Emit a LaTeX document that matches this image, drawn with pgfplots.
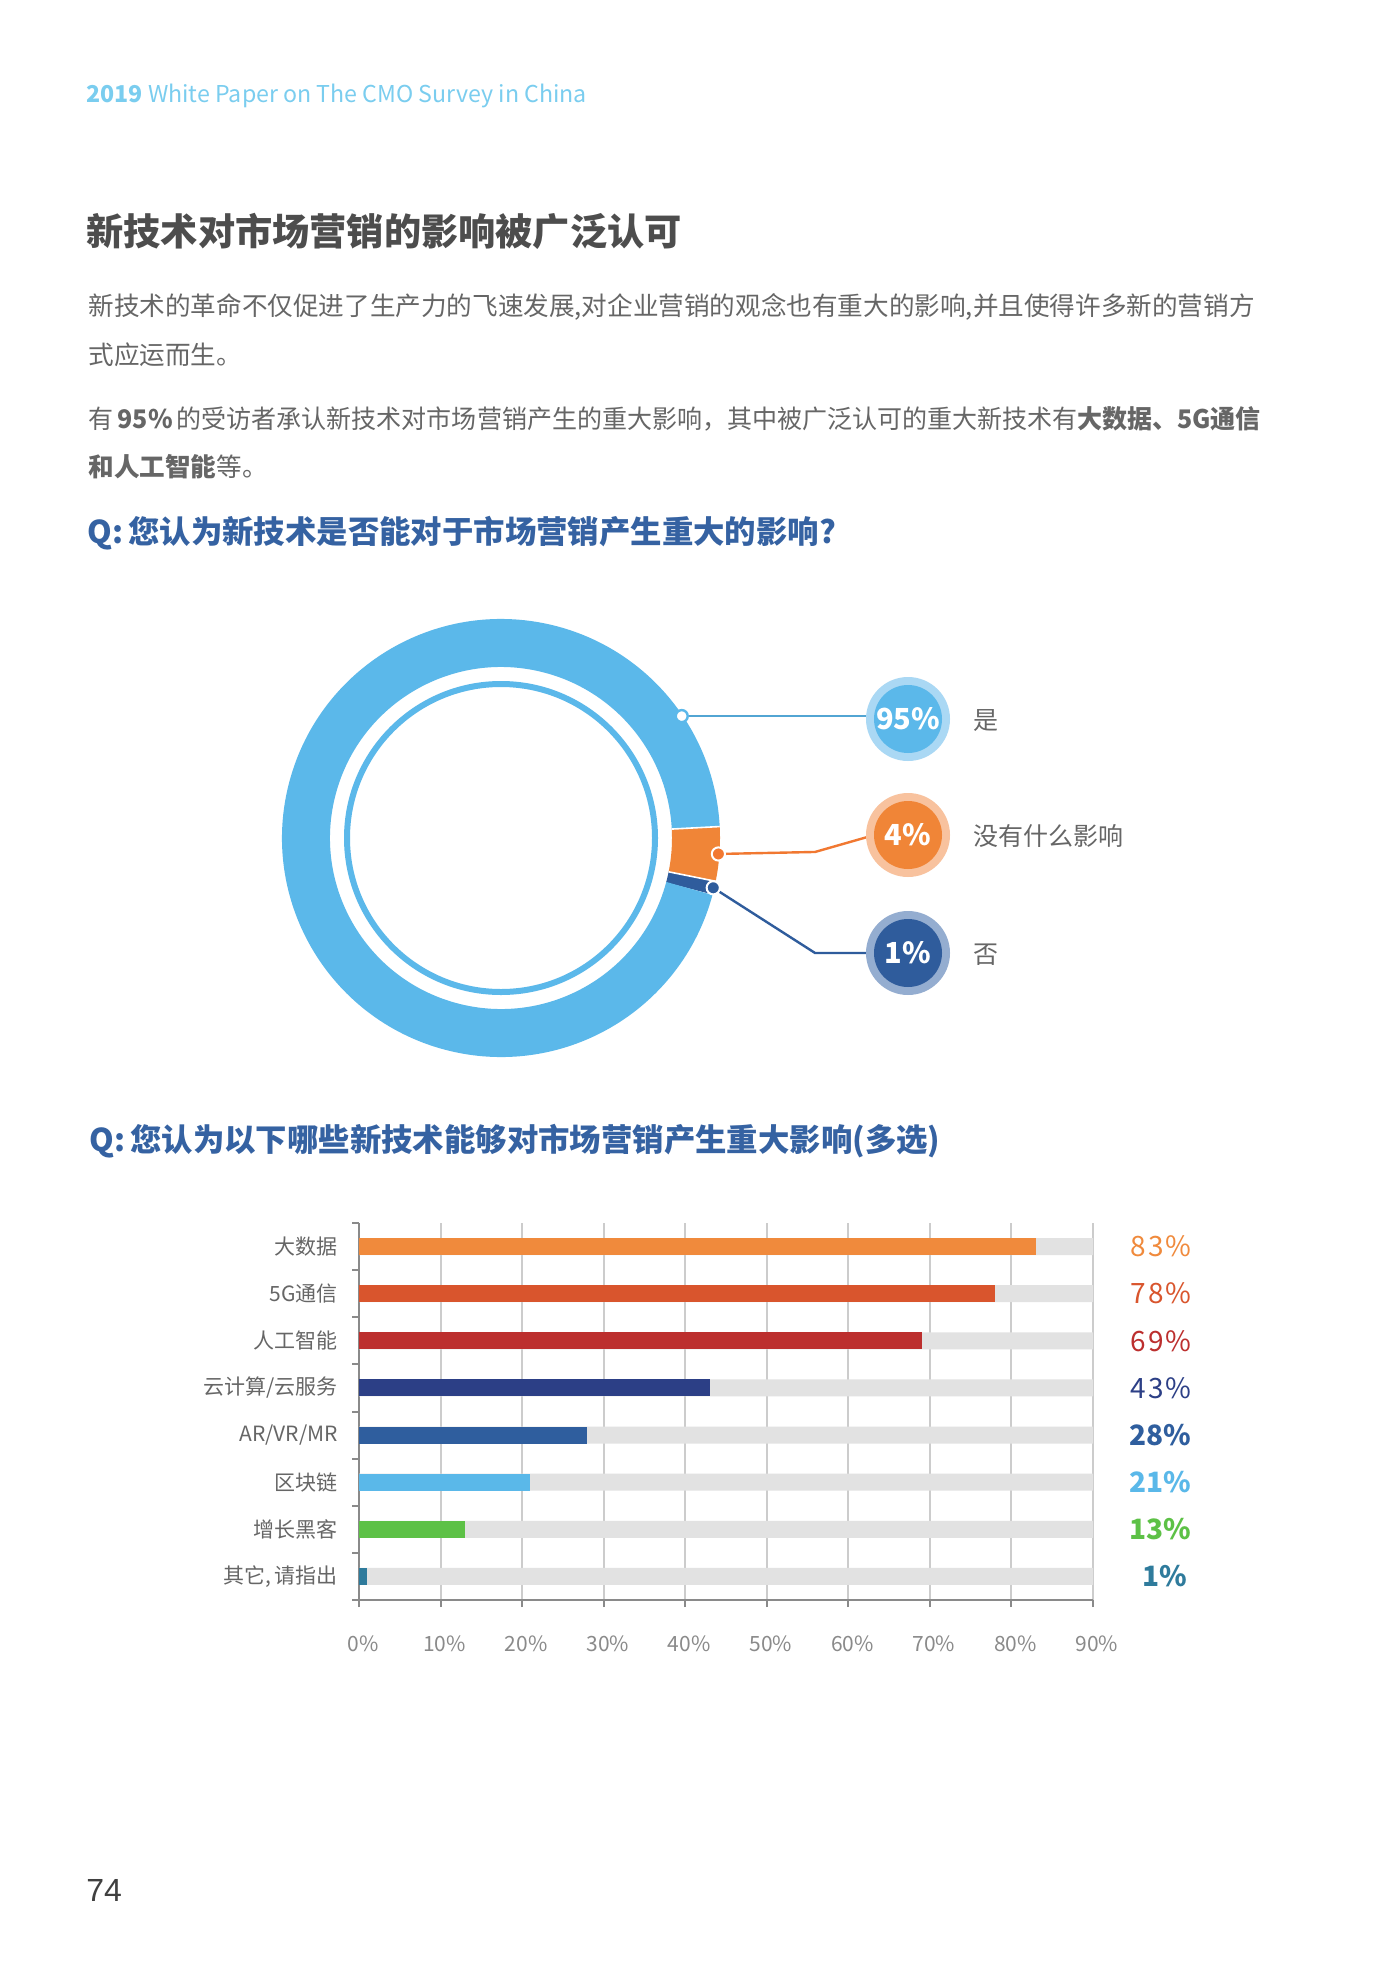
\documentclass[border=0pt]{standalone}
\usepackage{fontspec}
\setmainfont{Noto Sans CJK SC}
\newfontfamily\arial{Liberation Sans}
\usepackage{pgfplots}
\pgfplotsset{compat=1.18}

\definecolor{hdrblue}{HTML}{7ACDEF}
\definecolor{titlegray}{HTML}{4D4D4D}
\definecolor{textgray}{HTML}{666666}
\definecolor{qblue}{HTML}{3562A2}
\definecolor{ringblue}{HTML}{5BB8EA}
\definecolor{ringorange}{HTML}{F08537}
\definecolor{ringnavy}{HTML}{2F5C9C}
\definecolor{haloblue}{HTML}{AAD8F4}
\definecolor{haloorange}{HTML}{F8C29E}
\definecolor{halonavy}{HTML}{94ADD0}
\definecolor{cA}{HTML}{F08A3C}
\definecolor{cB}{HTML}{D9552D}
\definecolor{cC}{HTML}{BC2F2E}
\definecolor{cD}{HTML}{2C3F86}
\definecolor{cE}{HTML}{2F5E9E}
\definecolor{cF}{HTML}{5AB8E9}
\definecolor{cG}{HTML}{5DC146}
\definecolor{cH}{HTML}{2F7B9C}
\definecolor{bargray}{HTML}{E2E2E2}
\definecolor{gridgray}{HTML}{CCCCCC}
\definecolor{axisgray}{HTML}{8A8A8A}

\newcommand{\fs}[1]{\fontsize{#1pt}{#1pt}\selectfont}

% donut values (percent)
\def\pYes{95}
\def\pSome{4}
\def\pNo{1}

\begin{document}
\begin{tikzpicture}
\fill[white] (0,0) rectangle (689pt,-984.5pt);
\path[use as bounding box] (0,0) rectangle (689pt,-984.5pt);

% ---- donut ----
\begin{axis}[at={(250.5pt,-419pt)}, anchor=center, hide axis, scale only axis,
  width=230pt, height=230pt, xmin=-1, xmax=1, ymin=-1, ymax=1, clip=false]
\addplot[draw=none] coordinates {(0,0)};
\draw[ringorange, line width=24pt] (axis cs:0,0) ++(3:97.5pt)
  arc[start angle=3, end angle={3-3.6*\pSome}, radius=97.5pt];
\draw[ringnavy, line width=24pt] (axis cs:0,0) ++({3-3.6*\pSome}:97.5pt)
  arc[start angle={3-3.6*\pSome}, end angle={3-3.6*(\pSome+\pNo)}, radius=97.5pt];
\draw[ringblue, line width=24pt] (axis cs:0,0) ++({3-3.6*(\pSome+\pNo)}:97.5pt)
  arc[start angle={3-3.6*(\pSome+\pNo)}, end angle={3-3.6*(\pSome+\pNo+\pYes)}, radius=97.5pt];
\draw[white, line width=0.8pt] (axis cs:0,0) ++(3:85.5pt) -- ++(3:24pt);
\draw[white, line width=0.8pt] (axis cs:0,0) ++({3-3.6*\pSome}:85.5pt) -- ++({3-3.6*\pSome}:24pt);
\draw[ringblue, line width=3pt] (axis cs:0,0) circle[radius=77pt];
% leaders
\path (axis cs:0,0) ++(34:109pt) coordinate (dA);
\path (axis cs:0,0) ++({3-1.8*\pSome}:109pt) coordinate (dB);
\path (axis cs:0,0) ++({3-3.6*\pSome-1.8*\pNo}:109pt) coordinate (dC);
\draw[ringblue!90!black, line width=1.2pt] (dA) -- ++(92pt,0pt);
\draw[ringorange!90!red, line width=1.2pt] (dB) -- ++(48.3pt,1pt) -- ++(28pt,8pt);
\draw[ringnavy, line width=1.2pt] (dC) -- ++(50.9pt,-32.6pt) -- ++(27.5pt,0pt);
\filldraw[fill=white, draw=ringblue, line width=1.2pt] (dA) circle[radius=3pt];
\filldraw[fill=ringorange!90!red, draw=white, line width=1pt] (dB) circle[radius=3.3pt];
\filldraw[fill=ringnavy, draw=white, line width=1pt] (dC) circle[radius=3.3pt];
\end{axis}

% ---- bar chart ----
\begin{axis}[at={(179.5pt,-800pt)}, anchor=south west, scale only axis,
  width=367pt, height=188.5pt,
  xbar, bar width=8.5pt, bar shift=0pt,
  xmin=0, xmax=90, ymin=-0.5, ymax=7.5,
  axis x line*=bottom, axis y line*=left,
  axis line style={axisgray, line width=1.2pt},
  xtick={0,10,...,90},
  xticklabels={0\%,10\%,20\%,30\%,40\%,50\%,60\%,70\%,80\%,90\%},
  xmajorgrids, grid style={gridgray, line width=1pt},
  ytick={-0.5,0.5,...,7.5}, yticklabels={},
  extra y ticks={0,1,2,3,4,5,6,7},
  extra y tick labels={{其它,\,请指出},增长黑客,区块链,AR/VR/MR,云计算/云服务,人工智能,5G通信,大数据},
  extra tick style={major tick length=0pt},
  tick align=outside, major tick length=3.5pt,
  tick style={axisgray, line width=1pt},
  xticklabel style={font=\fs{10.5}, text=axisgray, yshift=-11pt, xshift=2pt},
  yticklabel style={font=\fs{10.5}, text=textgray, xshift=-7pt},
  clip=false,
]
\addplot[fill=bargray, draw=none] coordinates {(90,0)(90,1)(90,2)(90,3)(90,4)(90,5)(90,6)(90,7)};
\addplot[fill=cA, draw=none] coordinates {(83,7)};
\addplot[fill=cB, draw=none] coordinates {(78,6)};
\addplot[fill=cC, draw=none] coordinates {(69,5)};
\addplot[fill=cD, draw=none] coordinates {(43,4)};
\addplot[fill=cE, draw=none] coordinates {(28,3)};
\addplot[fill=cF, draw=none] coordinates {(21,2)};
\addplot[fill=cG, draw=none] coordinates {(13,1)};
\addplot[fill=cH, draw=none] coordinates {(1,0)};
\node[anchor=east, xshift=52.5pt, text=cA, font=\fs{14}] at (axis cs:90,7) {8\kern0.8pt3\kern0.8pt\%};
\node[anchor=east, xshift=52.5pt, text=cB, font=\fs{14}] at (axis cs:90,6) {7\kern0.8pt8\kern0.8pt\%};
\node[anchor=east, xshift=52.5pt, text=cC, font=\fs{14}] at (axis cs:90,5) {6\kern0.8pt9\kern0.8pt\%};
\node[anchor=east, xshift=52.5pt, text=cD, font=\fs{14}] at (axis cs:90,4) {4\kern0.8pt3\kern0.8pt\%};
\node[anchor=east, xshift=52.5pt, text=cE, font=\bfseries\fs{14}] at (axis cs:90,3) {28\%};
\node[anchor=east, xshift=52.5pt, text=cF, font=\bfseries\fs{14}] at (axis cs:90,2) {21\%};
\node[anchor=east, xshift=52.5pt, text=cG, font=\bfseries\fs{14}] at (axis cs:90,1) {13\%};
\node[anchor=east, xshift=50.5pt, text=cH, font=\bfseries\fs{14}] at (axis cs:90,0) {1\%};
\end{axis}

% ---- page text ----
\begin{scope}[x=0.5pt, y=-0.5pt, every node/.style={inner sep=0pt}]
\node[anchor=base west, text=hdrblue, font=\fs{11.6}] at (86,103)
  {\textbf{2019} White Paper on The CMO Survey in China};
\node[anchor=west, text=titlegray, font=\bfseries\fs{18.6}] at (86,231)
  {新技术对市场营销的影响被广泛认可};
\node[anchor=west, text=textgray, font=\fs{12.8}] at (88,307)
  {新技术的革命不仅促进了生产力的飞速发展,对企业营销的观念也有重大的影响,并且使得许多新的营销方};
\node[anchor=west, text=textgray, font=\fs{12.8}] at (88,355)
  {式应运而生。};
\node[anchor=west, text=textgray, font=\fs{12.8}] at (88,419)
  {\scalebox{0.977}[1]{有\,\textbf{95\%}\,的受访者承认新技术对市场营销产生的重大影响，其中被广泛认可的重大新技术有\textbf{大数据、5G通信}}};
\node[anchor=west, text=textgray, font=\fs{12.8}] at (88,467)
  {\textbf{和人工智能}等。};
\node[anchor=west, text=qblue, font=\bfseries\fs{15.7}] at (87,533)
  {Q:\,您认为新技术是否能对于市场营销产生重大的影响?};
\node[anchor=west, text=qblue, font=\bfseries\fs{15.7}] at (89,1141)
  {Q:\,您认为以下哪些新技术能够对市场营销产生重大影响(多选)};
% callout circles
\fill[haloblue] (908,719) circle[radius=21pt];
\fill[ringblue] (908,719) circle[radius=17pt];
\node[text=white, font=\bfseries\fs{14.5}] at (908,719) {95\%};
\fill[haloorange] (908,835) circle[radius=21pt];
\fill[ringorange] (908,835) circle[radius=17pt];
\node[text=white, font=\bfseries\fs{14.5}] at (908,835) {4\%};
\fill[halonavy] (908,953) circle[radius=21pt];
\fill[ringnavy] (908,953) circle[radius=17pt];
\node[text=white, font=\bfseries\fs{14.5}] at (908,953) {1\%};
\node[anchor=west, text=textgray, font=\fs{12.5}] at (973,721) {是};
\node[anchor=west, text=textgray, font=\fs{12.5}] at (973,836) {没有什么影响};
\node[anchor=west, text=textgray, font=\fs{12.5}] at (973,955) {否};
\node[anchor=west, text=black!75, font=\arial\fs{16}] at (86,1890) {74};
\end{scope}
\end{tikzpicture}
\end{document}
